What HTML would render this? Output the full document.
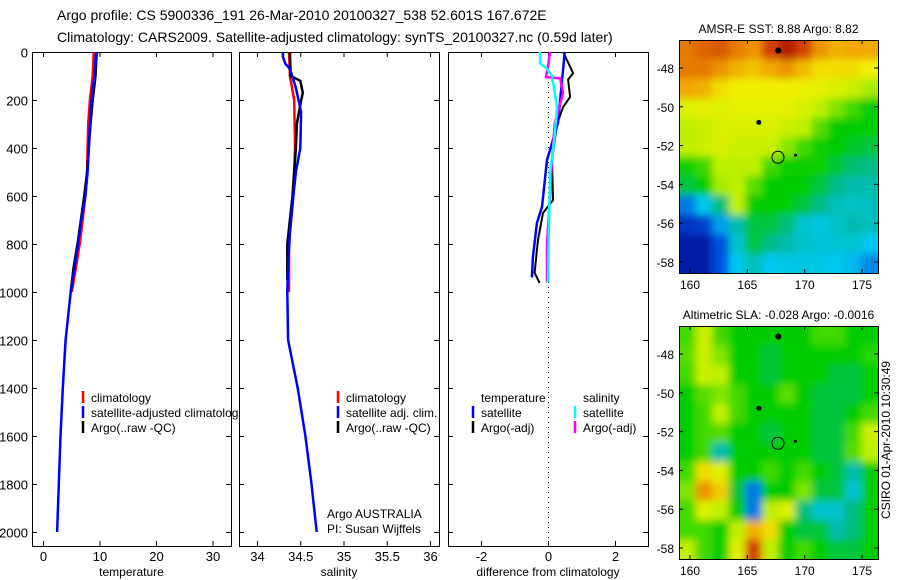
<!DOCTYPE html>
<html><head><meta charset="utf-8"><style>
body{margin:0;background:#fff;font-family:"Liberation Sans",sans-serif}
svg{display:block}
text{font-family:"Liberation Sans",sans-serif;fill:#000}
</style></head><body>
<svg id="fig" width="900" height="580" viewBox="0 0 900 580">
<defs><filter id="blur" x="-10%" y="-10%" width="120%" height="120%"><feGaussianBlur stdDeviation="4"/></filter></defs>
<text x="57" y="20" font-size="14">Argo profile: CS 5900336_191 26-Mar-2010 20100327_538 52.601S 167.672E</text>
<text x="57" y="42" font-size="14">Climatology: CARS2009. Satellite-adjusted climatology: synTS_20100327.nc (0.59d later)</text>
<g id="plots"></g>
</svg>
<script>
const depthTicks=[0,200,400,600,800,1000,1200,1400,1600,1800,2000];
const tempTicks=[0,10,20,30];
const salTicks=[34,34.5,35,35.5,36];
const diffTicks=[-2,0,2];
const lonTicks=[160,165,170,175];
const latTicks=[-48,-50,-52,-54,-56,-58];

const tDepthA=[0,100,200,300,400,500,600,700,800,900,1000,1200,1400,1600,1800,2000];
const tempSat=[9.4,9.1,8.6,8.3,8.1,7.9,7.5,6.8,6.2,5.6,4.9,4.0,3.5,3.1,2.8,2.5];
const tDepthB=[0,100,200,300,400,500,600,700,800,900,1000];
const tempClim=[9.0,8.8,8.3,8.0,7.9,7.8,7.5,7.0,6.5,5.8,5.1];
const tempArgo=[9.5,9.3,8.8,8.4,8.1,7.8,7.3,6.7,6.1,5.4,4.9];

const sDepthSat=[0,20,50,70,150,250,400,500,600,750,900,1000,1200,1400,1600,1800,2000];
const salSat=[34.3,34.3,34.33,34.38,34.45,34.51,34.5,34.45,34.42,34.38,34.36,34.35,34.36,34.47,34.56,34.63,34.69];
const sDepthClim=[0,100,200,400,600,800,1000];
const salClim=[34.37,34.38,34.43,34.44,34.42,34.37,34.37];
const sDepthArgo=[0,100,120,170,220,300,400,600,800,950];
const salArgo=[34.38,34.39,34.5,34.53,34.5,34.46,34.45,34.41,34.35,34.35];

const dDepthT=[0,115,295,450,645,713,855,940];
const dTempSat=[0.5,0.42,0.3,-0.03,-0.18,-0.33,-0.45,-0.48];
const dDepthTA=[0,88,115,187,230,300,450,617,671,783,920,962];
const dTempArgo=[0.45,0.75,0.6,0.66,0.45,0.27,0.12,0.15,-0.15,-0.3,-0.4,-0.25];
const dDepthS=[0,46,70,100,229,350,505,700,960];
const dSalSat=[-0.24,-0.24,-0.03,0.12,0.27,0.2,0.06,0.03,0.0];
const dDepthSA=[0,60,104,110,171,300,450,600,800,960];
const dSalArgo=[0.06,0.0,-0.06,0.36,0.45,0.2,0.12,0.06,-0.03,-0.03];

const sstGrid=[
[0.9,0.92,0.93,0.9,0.88,0.95,0.98,0.95,0.88,0.85,0.86,0.86],
[0.9,0.9,0.88,0.85,0.83,0.86,0.88,0.84,0.8,0.8,0.8,0.78],
[0.86,0.85,0.8,0.78,0.78,0.78,0.78,0.77,0.76,0.74,0.72,0.68],
[0.75,0.76,0.75,0.76,0.76,0.76,0.76,0.74,0.7,0.65,0.6,0.55],
[0.7,0.72,0.74,0.74,0.74,0.74,0.72,0.7,0.62,0.55,0.55,0.55],
[0.7,0.72,0.74,0.72,0.72,0.72,0.66,0.6,0.56,0.55,0.52,0.5],
[0.56,0.6,0.7,0.7,0.7,0.6,0.56,0.56,0.56,0.5,0.46,0.44],
[0.5,0.55,0.68,0.7,0.62,0.55,0.55,0.55,0.5,0.44,0.4,0.4],
[0.2,0.3,0.45,0.7,0.55,0.55,0.55,0.5,0.44,0.38,0.36,0.38],
[0.1,0.12,0.25,0.4,0.5,0.5,0.45,0.35,0.32,0.36,0.4,0.38],
[0.05,0.05,0.15,0.35,0.5,0.44,0.4,0.36,0.34,0.34,0.35,0.3],
[0.05,0.05,0.15,0.3,0.38,0.3,0.32,0.32,0.32,0.3,0.28,0.22]];
const slaGrid=[
[0.6,0.72,0.6,0.55,0.55,0.55,0.55,0.55,0.6,0.6,0.55,0.55],
[0.62,0.72,0.65,0.55,0.55,0.5,0.55,0.55,0.55,0.55,0.55,0.58],
[0.6,0.72,0.7,0.55,0.55,0.5,0.55,0.55,0.55,0.5,0.5,0.55],
[0.55,0.62,0.65,0.6,0.55,0.55,0.62,0.55,0.5,0.5,0.5,0.55],
[0.55,0.6,0.7,0.6,0.55,0.55,0.55,0.55,0.5,0.5,0.55,0.6],
[0.55,0.6,0.62,0.55,0.55,0.5,0.55,0.55,0.5,0.5,0.6,0.72],
[0.55,0.6,0.4,0.55,0.55,0.55,0.55,0.55,0.5,0.5,0.62,0.7],
[0.6,0.8,0.75,0.55,0.55,0.6,0.55,0.6,0.55,0.5,0.4,0.55],
[0.65,0.88,0.82,0.5,0.2,0.55,0.55,0.65,0.5,0.5,0.35,0.55],
[0.6,0.75,0.7,0.55,0.2,0.7,0.75,0.45,0.35,0.35,0.45,0.55],
[0.6,0.6,0.55,0.7,0.85,0.8,0.55,0.5,0.5,0.4,0.45,0.55],
[0.7,0.6,0.55,0.75,0.95,0.7,0.55,0.6,0.55,0.5,0.5,0.55]];

const NS='http://www.w3.org/2000/svg';
const root=document.getElementById('plots');
function mk(tag,attrs,parent){const e=document.createElementNS(NS,tag);for(const k in attrs)e.setAttribute(k,attrs[k]);(parent||root).appendChild(e);return e;}
function txt(x,y,s,size,anchor,parent){const t=mk('text',{x:x,y:y,'font-size':size,'text-anchor':anchor||'start'},parent);t.textContent=s;return t;}

const PT=52,PB=546;
const yD=d=>PT+d*0.24;
const panels=[
 {x0:32,x1:231,k:5.65,z:43,ticks:tempTicks,label:'temperature',name:'temperature-panel'},
 {x0:239,x1:439,k:86.5,z:257,ticks:salTicks,label:'salinity',name:'salinity-panel'},
 {x0:448,x1:648,k:33.5,z:481,ticks:diffTicks,label:'difference from climatology',name:'difference-panel'}];
function xf(p,v){return p.z+(v-p.ticks[0])*p.k;}
panels.forEach((p,i)=>{
 const g=mk('g',{});
 
 
 const clip=mk('clipPath',{id:'c'+i},g);mk('rect',{x:p.x0,y:PT,width:p.x1-p.x0,height:PB-PT},clip);
 mk('rect',{x:p.x0+0.5,y:PT+0.5,width:p.x1-p.x0,height:PB-PT,fill:'none',stroke:'#000','stroke-width':1},g);
 depthTicks.forEach(d=>{const y=yD(d)+0.5;
  mk('line',{x1:p.x0,x2:p.x0+5,y1:y,y2:y,stroke:'#000'},g);
  mk('line',{x1:p.x1-5,x2:p.x1,y1:y,y2:y,stroke:'#000'},g);
  if(i==0){const t=txt(28,y+5,String(d),13,'end',g);}});
 p.ticks.forEach(v=>{const x=xf(p,v)+0.5;
  mk('line',{x1:x,x2:x,y1:PT,y2:PT+5,stroke:'#000'},g);
  mk('line',{x1:x,x2:x,y1:PB-5,y2:PB,stroke:'#000'},g);
  const t=txt(x,561,String(v),13,'middle',g);});
 const lt=txt((p.x0+p.x1)/2,576,p.label,12,'middle',g);
 
 p.g=mk('g',{'clip-path':'url(#c'+i+')'},g);
});
function line(p,depths,vals,color,name,w){
 let d='';depths.forEach((dd,j)=>{d+=(j?'L':'M')+xf(p,vals[j]).toFixed(1)+','+yD(dd).toFixed(1);});
 const e=mk('path',{d:d,fill:'none',stroke:color,'stroke-width':w||2.5},p.g);
 
}
const P=panels;
line(P[0],tDepthB,tempClim,'#f00','temp-climatology-line');
line(P[0],tDepthB,tempArgo,'#000','temp-argo-line');
line(P[0],tDepthA,tempSat,'#00f','temp-satellite-line');
line(P[1],sDepthClim,salClim,'#f00','sal-climatology-line');
line(P[1],sDepthArgo,salArgo,'#000','sal-argo-line');
line(P[1],sDepthSat,salSat,'#00f','sal-satellite-line');
mk('line',{x1:548.5,x2:548.5,y1:PT,y2:PB,stroke:'#000','stroke-dasharray':'1,4'},P[2].g);
line(P[2],dDepthTA,dTempArgo,'#000','diff-temp-argo-line',2);
line(P[2],dDepthT,dTempSat,'#00f','diff-temp-satellite-line');
line(P[2],dDepthSA,dSalArgo,'#f0f','diff-sal-argo-line');
line(P[2],dDepthS,dSalSat,'#0ff','diff-sal-satellite-line');

function legend(x,y,items,name){
 const g=mk('g',{});
 items.forEach((it,j)=>{const yy=y+j*15;
  if(it[0])mk('line',{x1:x,x2:x,y1:yy-11,y2:yy+1,stroke:it[0],'stroke-width':2.5},g);
  txt(x+8,yy,it[1],12,'start',g);});
}
legend(83,402,[['#f00','climatology'],['#00f','satellite-adjusted climatolog'],['#000','Argo(..raw -QC)']],'temperature-legend');
legend(338,402,[['#f00','climatology'],['#00f','satellite adj. clim.'],['#000','Argo(..raw -QC)']],'salinity-legend');
legend(473,402,[[null,'temperature'],['#00f','satellite'],['#000','Argo(-adj)']],'diff-temp-legend');
legend(575,402,[[null,'salinity'],['#0ff','satellite'],['#f0f','Argo(-adj)']],'diff-sal-legend');
txt(327,518,'Argo AUSTRALIA',12);txt(327,533,'PI: Susan Wijffels',12);

const stops=[[0,[0,0,140]],[0.15,[0,80,225]],[0.3,[0,200,240]],[0.42,[0,185,160]],[0.55,[0,205,0]],[0.7,[190,240,0]],[0.78,[240,240,0]],[0.87,[240,160,0]],[0.95,[210,64,0]],[1,[160,0,0]]];
function cmap(v){for(let i=1;i<stops.length;i++){if(v<=stops[i][0]){const a=stops[i-1],b=stops[i],t=(v-a[0])/(b[0]-a[0]);return 'rgb('+a[1].map((c,k)=>Math.round(c+(b[1][k]-c)*t)).join(',')+')';}}return 'rgb(160,0,0)';}
function map(yTop,grid,title,name){
 const x0=679,x1=878,yB=yTop+233;
 const lonX=l=>690+(l-160)*11.47, latY=a=>yTop+28+(-48-a)*19.4;
 const g=mk('g',{});
 const cid='m'+yTop;const clip=mk('clipPath',{id:cid},g);mk('rect',{x:x0,y:yTop,width:x1-x0,height:yB-yTop},clip);
 const cg=mk('g',{'clip-path':'url(#'+cid+')'},g);
 const hg=mk('g',{filter:'url(#blur)'},cg);
 const nr=grid.length,nc=grid[0].length;
 const cw=(x1-x0)/nc, ch=(yB-yTop)/nr;
 grid.forEach((row,r)=>row.forEach((v,c)=>{
  let x=x0+c*cw,y=yTop+r*ch,w=cw+0.6,h=ch+0.6;
  if(c==0){x-=12;w+=12;} if(c==nc-1){w+=12;}
  if(r==0){y-=12;h+=12;} if(r==nr-1){h+=12;}
  const e=mk('rect',{x:x.toFixed(1),y:y.toFixed(1),width:w.toFixed(1),height:h.toFixed(1),fill:cmap(v)},hg);
  }));
 [[167.7,-47.1,3],[166,-50.8,2.5],[169.2,-52.5,1.5]].forEach(p=>mk('circle',{cx:lonX(p[0]),cy:latY(p[1]),r:p[2],fill:'#000'},cg));
 mk('circle',{cx:lonX(167.67),cy:latY(-52.6),r:6,fill:'none',stroke:'#000'},cg);
 mk('rect',{x:x0+0.5,y:yTop+0.5,width:x1-x0,height:yB-yTop,fill:'none',stroke:'#000'},g);
 lonTicks.forEach(l=>{const x=lonX(l);mk('line',{x1:x,x2:x,y1:yTop,y2:yTop+4,stroke:'#000'},g);mk('line',{x1:x,x2:x,y1:yB-4,y2:yB,stroke:'#000'},g);txt(x,yB+16,String(l),12,'middle',g);});
 latTicks.forEach(a=>{const y=latY(a);mk('line',{x1:x0,x2:x0+4,y1:y,y2:y,stroke:'#000'},g);mk('line',{x1:x1-4,x2:x1,y1:y,y2:y,stroke:'#000'},g);txt(x0-5,y+5,String(a),12,'end',g);});
 txt((x0+x1)/2,yTop-7,title,12,'middle',g);
}
map(40,sstGrid,'AMSR-E SST: 8.88 Argo: 8.82','sst-map');
map(326,slaGrid,'Altimetric SLA: -0.028 Argo: -0.0016','sla-map');
const v=txt(0,0,'CSIRO 01-Apr-2010 10:30:49',12,'middle');
v.setAttribute('transform','translate(890,440) rotate(-90)');


</script>
</body></html>
